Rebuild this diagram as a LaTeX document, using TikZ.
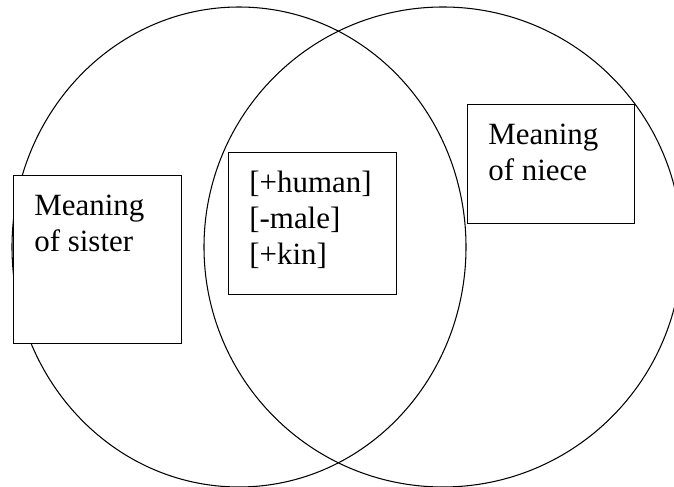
\documentclass[tikz,border=0pt]{standalone}
\usepackage{fontspec}
\setmainfont{Liberation Serif}
\begin{document}
\begin{tikzpicture}[
    meaningbox/.style={draw, fill=white, line width=0.8pt, inner sep=0pt, anchor=north west},
    boxtext/.style={anchor=north west, inner sep=0pt, align=left, font=\fontsize{17.6}{20.5}\selectfont}]
            \useasboundingbox (0,0) rectangle (13.48,-9.74);
            \clip (0,0) rectangle (13.48,-9.74);
            \draw[line width=0.6pt] (4.78,-4.94) ellipse [x radius=4.54, y radius=4.80];
            \draw[line width=0.6pt] (8.86,-4.94) ellipse [x radius=4.78, y radius=4.80];
            \node[meaningbox, minimum width=3.36cm, minimum height=3.36cm] (sister) at (0.26,-3.50) {};
            \node[boxtext] (sistertext) at ([shift={(0.42,-0.39)}]sister.north west) {Meaning\\of sister};
            \node[meaningbox, minimum width=3.36cm, minimum height=2.84cm] (feats) at (4.56,-3.04) {};
            \node[boxtext] (featstext) at ([shift={(0.42,-0.37)}]feats.north west) {{[+human]}\\{[-male]}\\{[+kin]}};
            \node[meaningbox, minimum width=3.34cm, minimum height=2.38cm] (niece) at (9.34,-2.08) {};
            \node[boxtext] (niecetext) at ([shift={(0.42,-0.39)}]niece.north west) {Meaning\\of niece};
        \end{tikzpicture}
\end{document}
